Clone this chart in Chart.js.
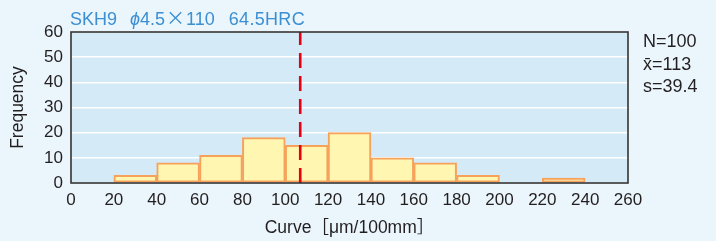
<!DOCTYPE html>
<html>
<head>
<meta charset="utf-8">
<script src="https://cdn.jsdelivr.net/npm/chart.js@4/dist/chart.umd.min.js"></script>
<style>
  html, body { margin: 0; padding: 0; background: #eaf5fc; }
  #wrap { position: relative; width: 716px; height: 241px; }
  #chart_title {
    position: absolute; left: 70px; top: 3px; white-space: pre;
    font: 18px 'Liberation Sans', sans-serif; color: #3b8fd2;
  }
  #chart_title .phi { font-style: italic; margin-left: 3px; }
  #chart_title .times { font-family: 'Noto Sans CJK JP', sans-serif; font-size: 19px; margin: 0 1px; }
  #chart_title .hrc { margin-left: 4px; letter-spacing: 0.3px; }
  #stats {
    position: absolute; left: 643px; top: 30px;
    font: 18px/22.5px 'Liberation Sans', sans-serif; color: #231f20;
  }
</style>
</head>
<body>
<div id="wrap">
  <canvas id="histogram" width="716" height="241"></canvas>
  <div id="chart_title">SKH9  <span class="phi">ϕ</span>4.5<span class="times">×</span>110  <span class="hrc">64.5HRC</span></div>
  <div id="stats">N=100<br>x̄=113<br>s=39.4</div>
</div>
<script>
  // histogram bins (left edge of each 20 µm bin) and counts
  const bin_starts = [20, 40, 60, 80, 100, 120, 140, 160, 180, 200, 220];
  const counts = [3, 8, 11, 18, 15, 20, 10, 8, 3, 0, 2];
  const bin_width = 20;

  // dashed reference line position
  const mean_line = 107;

  // axes
  const x_range = [0, 260];
  const y_range = [0, 60];

  const text_color = '#231f20';
  const font_family = "'Liberation Sans', 'Noto Sans CJK JP', sans-serif";

  const bars = bin_starts.map((b, i) => ({ x: b + bin_width / 2, y: counts[i] }));

  // plot background + frame
  const frame_plugin = {
    id: 'frame',
    beforeDraw: (chart) => {
      const { ctx, chartArea: a } = chart;
      ctx.save();
      ctx.fillStyle = '#d4eaf7';
      ctx.fillRect(a.left, a.top, a.right - a.left, a.bottom - a.top);
      ctx.restore();
    },
    afterDraw: (chart) => {
      const { ctx, chartArea: a } = chart;
      ctx.save();
      ctx.strokeStyle = '#333333';
      ctx.lineWidth = 1.6;
      ctx.strokeRect(a.left, a.top, a.right - a.left, a.bottom - a.top);
      ctx.restore();
    }
  };

  const ctx = document.getElementById('histogram').getContext('2d');
  // eslint-disable-next-line no-new
  new Chart(ctx, {
    type: 'bar',
    data: {
      datasets: [
        {
          type: 'line',
          data: [{ x: mean_line, y: y_range[0] }, { x: mean_line, y: y_range[1] }],
          borderColor: '#e60012',
          borderWidth: 2.6,
          borderDash: [15, 8],
          pointRadius: 0,
          order: 0
        },
        {
          data: bars,
          backgroundColor: '#fff6b2',
          borderColor: '#f7a25a',
          borderWidth: 2,
          borderSkipped: false,
          barPercentage: 1,
          categoryPercentage: 1,
          order: 1
        }
      ]
    },
    options: {
      responsive: false,
      devicePixelRatio: 1,
      animation: false,
      layout: { padding: { left: 0, top: 32, right: 88, bottom: 0 } },
      plugins: {
        legend: { display: false },
        tooltip: { enabled: false }
      },
      scales: {
        x: {
          type: 'linear',
          min: x_range[0],
          max: x_range[1],
          offset: false,
          afterFit: (scale) => { scale.height = 58; },
          grid: { display: false, drawTicks: false },
          border: { display: false },
          ticks: {
            stepSize: 20,
            padding: 7,
            color: text_color,
            font: { family: font_family, size: 17 }
          },
          title: {
            display: true,
            text: 'Curve［μm/100mm］',
            color: text_color,
            font: { family: font_family, size: 17.5 },
            padding: { top: 0, bottom: 2 }
          }
        },
        y: {
          min: y_range[0],
          max: y_range[1],
          afterFit: (scale) => { scale.width = 71; },
          grid: { color: '#ffffff', lineWidth: 1.5, drawTicks: false },
          border: { display: false },
          ticks: {
            stepSize: 10,
            padding: 8,
            color: text_color,
            font: { family: font_family, size: 17 }
          },
          title: {
            display: true,
            text: 'Frequency',
            color: text_color,
            font: { family: font_family, size: 17.5 },
            padding: { top: 8, bottom: 0 }
          }
        }
      }
    },
    plugins: [frame_plugin]
  });
</script>
</body>
</html>
